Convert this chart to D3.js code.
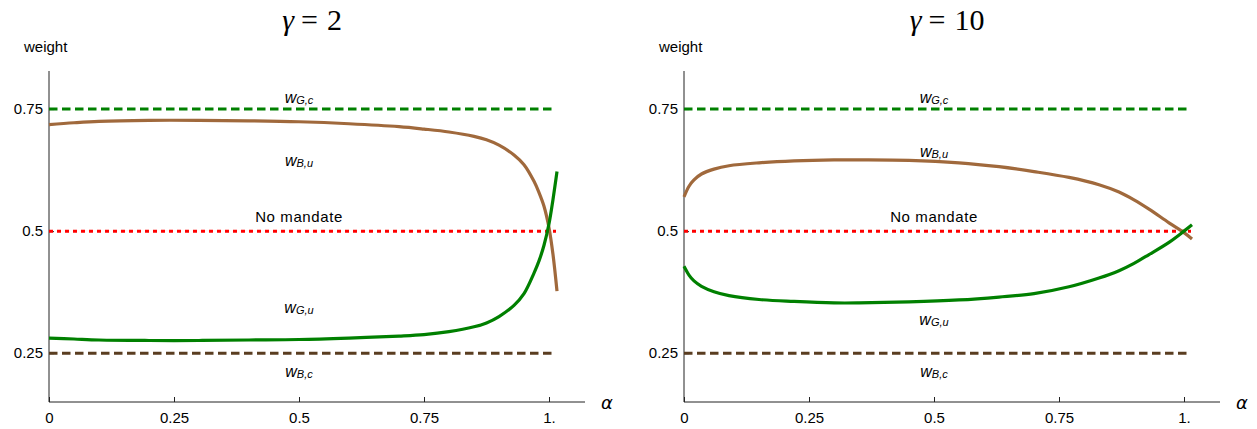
<!DOCTYPE html>
<html>
<head>
<meta charset="utf-8">
<script src="https://cdn.jsdelivr.net/npm/d3@7"></script>
<style>
  body { margin: 0; background: #fff; }
  text { font-family: "Liberation Sans", Arial, sans-serif; }
</style>
</head>
<body>
<svg id="chart" width="1257" height="429"></svg>
<script>
// constant weights
const wGc = 0.75, wBc = 0.25, noMandate = 0.5;

// gamma = 2
const alpha2 = [0, 0.05, 0.1, 0.2, 0.3, 0.4, 0.5, 0.6, 0.7, 0.75, 0.8, 0.85, 0.875, 0.9, 0.93, 0.95, 0.97, 0.98, 0.99, 1.0, 1.008, 1.016];
const wBu2 = [0.718, 0.722, 0.725, 0.727, 0.727, 0.726, 0.724, 0.72, 0.714, 0.709, 0.703, 0.694, 0.687, 0.676, 0.656, 0.636, 0.602, 0.579, 0.551, 0.507, 0.452, 0.377];
const wGu2 = [0.281, 0.279, 0.277, 0.276, 0.276, 0.277, 0.278, 0.281, 0.285, 0.288, 0.294, 0.304, 0.312, 0.325, 0.348, 0.372, 0.414, 0.439, 0.471, 0.515, 0.565, 0.622];

// gamma = 10
const alpha10 = [0, 0.01, 0.02, 0.035, 0.06, 0.09, 0.15, 0.22, 0.3, 0.35, 0.45, 0.55, 0.63, 0.7, 0.77, 0.83, 0.87, 0.9, 0.93, 0.97, 1.0, 1.016];
const wBu10 = [0.570, 0.592, 0.605, 0.617, 0.627, 0.634, 0.640, 0.644, 0.646, 0.646, 0.645, 0.640, 0.632, 0.622, 0.610, 0.595, 0.580, 0.564, 0.545, 0.517, 0.497, 0.484];
const wGu10 = [0.428, 0.410, 0.398, 0.387, 0.376, 0.368, 0.360, 0.356, 0.353, 0.353, 0.355, 0.359, 0.365, 0.372, 0.386, 0.404, 0.419, 0.434, 0.452, 0.477, 0.500, 0.513];

const xTicks = [0, 0.25, 0.5, 0.75, 1];
const xTickLabels = ["0", "0.25", "0.5", "0.75", "1."];
const yTicks = [0.25, 0.5, 0.75];
const yTickLabels = ["0.25", "0.5", "0.75"];

const panels = [
  { title: "2", left: 49, alpha: alpha2, wBu: wBu2, wGu: wGu2,
    lab: { Gc: 0.775, Bu: 0.646, nm: 0.529, Gu: 0.344, Bc: 0.213 } },
  { title: "10", left: 684, alpha: alpha10, wBu: wBu10, wGu: wGu10,
    lab: { Gc: 0.775, Bu: 0.664, nm: 0.529, Gu: 0.321, Bc: 0.213 } }
];

const svg = d3.select("#chart");
const green = "#008000", brown = "#a0693c", darkBrown = "#5a3d20", red = "#ff0000";

panels.forEach(p => {
  const x = d3.scaleLinear().domain([0, 1.072]).range([p.left, p.left + 536]);
  const y = d3.scaleLinear().domain([0.15, 0.828]).range([402, 71]);
  const g = svg.append("g");

  // title, TeX-ish look
  const t = g.append("text")
    .attr("x", p.left + 263).attr("y", 30)
    .attr("text-anchor", "middle")
    .style("font-family", "'Liberation Serif','DejaVu Serif',serif")
    .style("font-size", "30px");
  t.append("tspan").style("font-style", "italic").text("γ");
  t.append("tspan").attr("dx", 7).text("=");
  t.append("tspan").attr("dx", 9).text(p.title);

  // axes
  g.append("g")
    .attr("transform", `translate(0,402)`)
    .call(d3.axisBottom(x).tickValues(xTicks).tickSize(-5).tickPadding(10)
      .tickFormat((d, i) => xTickLabels[i]))
    .call(a => a.select(".domain").attr("d", `M${p.left},0H${p.left + 536}`).attr("stroke", "#222"))
    .call(a => a.selectAll("line").attr("stroke", "#222"))
    .call(a => a.selectAll("text").style("font-size", "15px").attr("fill", "#000"));

  g.append("g")
    .attr("transform", `translate(${p.left},0)`)
    .call(d3.axisLeft(y).tickValues(yTicks).tickSize(-5).tickPadding(6)
      .tickFormat((d, i) => yTickLabels[i]))
    .call(a => a.select(".domain").attr("d", `M0,71V402`).attr("stroke", "#222"))
    .call(a => a.selectAll("line").attr("stroke", "#222"))
    .call(a => a.selectAll("text").style("font-size", "15px").attr("fill", "#000"));

  g.append("text").attr("x", p.left - 25).attr("y", 52).style("font-size", "15px").text("weight");
  g.append("text").attr("x", p.left + 552).attr("y", 409)
    .style("font-size", "18px").style("font-style", "italic")
    .style("font-family", "'DejaVu Sans','Liberation Sans',sans-serif").text("α");

  // constant lines
  const hline = (v, color, dash) => g.append("line")
    .attr("x1", x(0)).attr("x2", x(1.014))
    .attr("y1", y(v)).attr("y2", y(v))
    .attr("stroke", color).attr("stroke-width", 3)
    .attr("stroke-dasharray", dash);
  hline(wGc, green, "8.5,4.5");
  hline(noMandate, red, "4,4");
  hline(wBc, darkBrown, "8.5,4.5");

  // curves
  const line = d3.line().curve(d3.curveCatmullRom.alpha(0.5))
    .x((d, i) => x(p.alpha[i])).y(d => y(d));
  g.append("path").datum(p.wBu).attr("d", line)
    .attr("fill", "none").attr("stroke", brown).attr("stroke-width", 3.2);
  g.append("path").datum(p.wGu).attr("d", line)
    .attr("fill", "none").attr("stroke", green).attr("stroke-width", 3.2);

  // labels
  const wlabel = (v, sub) => {
    const tx = g.append("text").attr("x", x(0.5)).attr("y", y(v))
      .attr("text-anchor", "middle").attr("dominant-baseline", "central")
      .style("font-size", "16px").style("font-style", "italic");
    tx.append("tspan").text("w");
    tx.append("tspan").attr("dy", 3).style("font-size", "11px").text(sub);
  };
  wlabel(p.lab.Gc, "G,c");
  wlabel(p.lab.Bu, "B,u");
  wlabel(p.lab.Gu, "G,u");
  wlabel(p.lab.Bc, "B,c");
  g.append("text").attr("x", x(0.5)).attr("y", y(p.lab.nm))
    .attr("text-anchor", "middle").attr("dominant-baseline", "central")
    .style("font-size", "15px").style("letter-spacing", "0.6px").text("No mandate");
});
</script>
</body>
</html>
